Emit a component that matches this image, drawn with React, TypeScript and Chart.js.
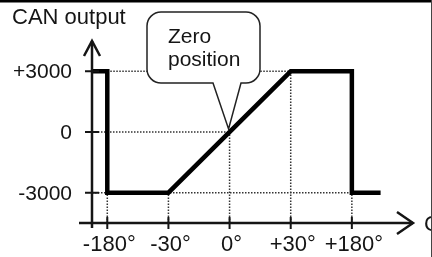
import { useEffect, useRef } from "react";
import { Chart, registerables } from "chart.js";

Chart.register(...registerables);

// ---- data ----
const TICK_POS = [-2, -1, 0, 1, 2];
const TICK_LABELS = ["-180°", "-30°", "0°", "+30°", "+180°"];
const Y_TICKS = [3000, 0, -3000];
const Y_LABELS = ["+3000", "0", "-3000"];
const LINE_X = [-2.25, -2, -2, -1, 1, 2, 2, 2.47];
const LINE_Y = [3000, 3000, -3000, -3000, 3000, 3000, -3000, -3000];
const V_GUIDE_TOP = [-3000, -3000, 0, 3000, -3000];
const H_GUIDE_Y = [3000, 0, -3000];
const H_GUIDE_START = [-2, -2.25, -2.25];
const H_GUIDE_END = [1, 0, 2];
const X_MIN = -2.25;
const X_MAX = 3;
const Y_MIN = -4500;
const Y_MAX = 4500;
const Y_TITLE = "CAN output";
const X_TITLE = "C";
const BUBBLE_LINES = ["Zero", "position"];

const FAMILY = '"Liberation Sans", Arial, sans-serif';
const INK = "#151515";

const overlay = {
  id: "overlay",
  beforeDatasetsDraw(chart: any) {
    const { ctx } = chart;
    const x = chart.scales.x;
    const y = chart.scales.y;
    ctx.save();
    ctx.strokeStyle = "#333";
    ctx.lineWidth = 1.5;
    ctx.setLineDash([1.5, 1.5]);
    TICK_POS.forEach((p, i) => {
      const px = x.getPixelForValue(p);
      ctx.beginPath();
      ctx.moveTo(px, y.getPixelForValue(Y_MIN));
      ctx.lineTo(px, y.getPixelForValue(V_GUIDE_TOP[i]));
      ctx.stroke();
    });
    H_GUIDE_Y.forEach((v, i) => {
      const py = y.getPixelForValue(v);
      ctx.beginPath();
      ctx.moveTo(x.getPixelForValue(H_GUIDE_START[i]), py);
      ctx.lineTo(x.getPixelForValue(H_GUIDE_END[i]), py);
      ctx.stroke();
    });
    ctx.restore();
  },
  afterDatasetsDraw(chart: any) {
    const { ctx } = chart;
    const x = chart.scales.x;
    const y = chart.scales.y;
    const ax = x.getPixelForValue(X_MIN);
    const ay = y.getPixelForValue(Y_MIN);
    const xEnd = x.getPixelForValue(X_MAX);
    const yTop = y.getPixelForValue(Y_MAX);
    ctx.save();
    ctx.setLineDash([]);
    ctx.strokeStyle = INK;
    ctx.lineCap = "butt";
    ctx.lineJoin = "miter";
    // axes
    ctx.lineWidth = 2.5;
    ctx.beginPath();
    ctx.moveTo(ax - 13, ay);
    ctx.lineTo(xEnd, ay);
    ctx.moveTo(ax, ay + 5);
    ctx.lineTo(ax, yTop);
    ctx.stroke();
    // arrowheads
    ctx.beginPath();
    ctx.moveTo(ax - 8, yTop + 15);
    ctx.lineTo(ax, yTop);
    ctx.lineTo(ax + 8, yTop + 15);
    ctx.moveTo(xEnd - 16, ay - 11);
    ctx.lineTo(xEnd, ay);
    ctx.lineTo(xEnd - 16, ay + 11);
    ctx.stroke();
    // ticks
    ctx.lineWidth = 2;
    ctx.beginPath();
    TICK_POS.forEach((p) => {
      const px = x.getPixelForValue(p);
      ctx.moveTo(px, ay - 6);
      ctx.lineTo(px, ay + 6);
    });
    Y_TICKS.forEach((v) => {
      const py = y.getPixelForValue(v);
      ctx.moveTo(ax - 7, py);
      ctx.lineTo(ax + 7, py);
    });
    ctx.stroke();
    // labels
    ctx.fillStyle = INK;
    ctx.textBaseline = "alphabetic";
    ctx.font = `21px ${FAMILY}`;
    ctx.textAlign = "right";
    Y_TICKS.forEach((v, i) => {
      ctx.fillText(Y_LABELS[i], ax - 20, y.getPixelForValue(v) + 7);
    });
    ctx.font = `22px ${FAMILY}`;
    ctx.textAlign = "center";
    TICK_POS.forEach((p, i) => {
      ctx.fillText(TICK_LABELS[i], x.getPixelForValue(p) + 2, ay + 28);
    });
    ctx.textAlign = "left";
    ctx.fillText(Y_TITLE, 12, 24);
    ctx.fillText(X_TITLE, xEnd + 11, ay + 8);

    // bubble
    const tipX = x.getPixelForValue(0) - 1;
    const tipY = y.getPixelForValue(0) - 3;
    const L = 147, R = 260, T = 12, B = 83, r = 14;
    ctx.beginPath();
    ctx.moveTo(L + r, T);
    ctx.lineTo(R - r, T);
    ctx.arcTo(R, T, R, T + r, r);
    ctx.lineTo(R, B - r);
    ctx.arcTo(R, B, R - r, B, r);
    ctx.lineTo(241, B);
    ctx.lineTo(tipX, tipY);
    ctx.lineTo(213, B);
    ctx.lineTo(L + r, B);
    ctx.arcTo(L, B, L, B - r, r);
    ctx.lineTo(L, T + r);
    ctx.arcTo(L, T, L + r, T, r);
    ctx.closePath();
    ctx.fillStyle = "#fff";
    ctx.fill();
    ctx.lineWidth = 1.5;
    ctx.strokeStyle = "#222";
    ctx.stroke();
    ctx.fillStyle = INK;
    ctx.font = `21px ${FAMILY}`;
    ctx.textAlign = "left";
    ctx.fillText(BUBBLE_LINES[0], 168, 43);
    ctx.fillText(BUBBLE_LINES[1], 168, 66);

    // frame bits
    ctx.fillStyle = "#000";
    ctx.fillRect(0, 0, 432, 2.5);
    ctx.fillStyle = "#444";
    ctx.fillRect(431, 0, 1, 257);
    ctx.restore();
  },
};

export default function App() {
  const ref = useRef<HTMLCanvasElement | null>(null);
  useEffect(() => {
    document.body.style.margin = "0";
    const canvas = ref.current;
    if (!canvas) return;
    const chart = new Chart(canvas, {
      type: "line",
      data: {
        datasets: [
          {
            data: LINE_X.map((vx, i) => ({ x: vx, y: LINE_Y[i] })),
            borderColor: "#000",
            borderWidth: 4.5,
            pointRadius: 0,
            tension: 0,
            fill: false,
            clip: false as any,
            borderJoinStyle: "miter",
            borderCapStyle: "butt",
          },
        ],
      },
      options: {
        animation: false,
        responsive: false,
        devicePixelRatio: 1,
        layout: { padding: { left: 92, right: 19, top: 41, bottom: 34 } },
        plugins: { legend: { display: false }, tooltip: { enabled: false } },
        scales: {
          x: { type: "linear", min: X_MIN, max: X_MAX, display: false },
          y: { type: "linear", min: Y_MIN, max: Y_MAX, display: false },
        },
      },
      plugins: [overlay],
    });
    return () => chart.destroy();
  }, []);
  return (
    <div style={{ width: 432, height: 257, background: "#fff" }}>
      <canvas ref={ref} width={432} height={257} />
    </div>
  );
}
